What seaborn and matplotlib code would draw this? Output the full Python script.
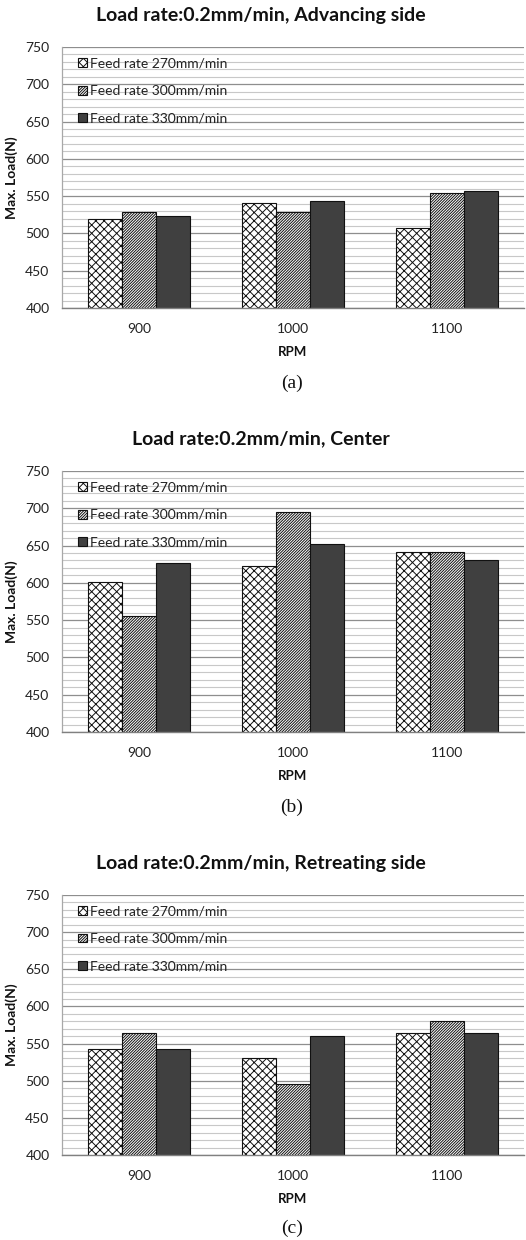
import pandas as pd
import matplotlib
matplotlib.use("Agg")
import matplotlib.pyplot as plt
from matplotlib.ticker import MultipleLocator
import seaborn as sns

# ---------------- DATA ----------------
rpm = ["900", "1000", "1100"]
feeds = ["270", "300", "330"]
feed_labels = ["Feed rate 270mm/min", "Feed rate 300mm/min", "Feed rate 330mm/min"]

adv_270 = [519, 541, 507]
adv_300 = [529, 529, 554]
adv_330 = [523, 543, 557]

cen_270 = [601, 622, 641]
cen_300 = [556, 695, 641]
cen_330 = [627, 652, 630]

ret_270 = [543, 531, 564]
ret_300 = [564, 496, 580]
ret_330 = [543, 560, 564]

titles = ["Load rate:0.2mm/min, Advancing side",
          "Load rate:0.2mm/min, Center",
          "Load rate:0.2mm/min, Retreating side"]
panel_tags = ["(a)", "(b)", "(c)"]

# ---------------- STYLE ----------------
sns.set_theme(style="white")
plt.rcParams["font.family"] = ["Lato", "DejaVu Sans"]
plt.rcParams["hatch.linewidth"] = 0.7

palette = {"270": "white", "300": "white", "330": "#404040"}
hatches = ["xxxx", "////////////", ""]

W, H = 526, 1240
fig = plt.figure(figsize=(W / 100, H / 100), dpi=100)


def long_df(s270, s300, s330):
    rows = []
    for f, vals in zip(feeds, [s270, s300, s330]):
        for r, v in zip(rpm, vals):
            rows.append({"rpm": r, "feed": f, "load": v})
    return pd.DataFrame(rows)


panels = [
    long_df(adv_270, adv_300, adv_330),
    long_df(cen_270, cen_300, cen_330),
    long_df(ret_270, ret_300, ret_330),
]

# pixel layout of each panel: (axes top, axes bottom, title y, tag y)
layout = [(47, 308, 15, 383), (471, 732, 439, 807), (895, 1155, 863, 1228)]
ax_left, ax_right = 62, 524

for df, title, tag, (top, bot, ty, tagy) in zip(panels, titles, panel_tags, layout):
    ax = fig.add_axes([ax_left / W, 1 - bot / H, (ax_right - ax_left) / W, (bot - top) / H])
    sns.barplot(data=df, x="rpm", y="load", hue="feed", order=rpm, hue_order=feeds,
                palette=palette, saturation=1, errorbar=None, width=0.66,
                edgecolor="#111111", linewidth=0.8, legend=False, ax=ax)
    for cont, h in zip(ax.containers, hatches):
        for p in cont.patches:
            p.set_hatch(h)

    ax.set_ylim(400, 750)
    ax.yaxis.set_major_locator(MultipleLocator(50))
    ax.yaxis.set_minor_locator(MultipleLocator(10))
    ax.set_axisbelow(True)
    ax.grid(which="minor", axis="y", color="#c8c8c8", lw=0.8)
    ax.grid(which="major", axis="y", color="#8e8e8e", lw=0.9)

    for s in ["top", "right"]:
        ax.spines[s].set_visible(False)
    ax.spines["left"].set_color("#a8a8a8")
    ax.spines["bottom"].set_color("#808080")
    ax.spines["left"].set_linewidth(0.9)
    ax.spines["bottom"].set_linewidth(1.0)

    ax.tick_params(axis="y", length=0, pad=9, labelsize=10, labelcolor="#222222")
    ax.tick_params(axis="x", length=0, pad=11, labelsize=10, labelcolor="#222222")
    ax.tick_params(axis="y", which="minor", length=0)

    ax.set_xlabel("RPM", fontsize=9.5, fontweight="bold", labelpad=8, color="#111111")
    ax.set_ylabel("Max. Load(N)", fontsize=10, fontweight="bold", color="#111111")
    ax.yaxis.set_label_coords(-0.095, 0.5)

    ax.legend(ax.containers, feed_labels, loc="upper left", bbox_to_anchor=(0.035, 0.96),
              frameon=False, fontsize=10, handlelength=0.6, handleheight=0.6,
              handletextpad=0.25, labelspacing=1.12, borderpad=0, borderaxespad=0,
              labelcolor="#222222")

    fig.text(261 / W, 1 - ty / H, title, ha="center", va="center",
             fontsize=14, fontweight="bold", color="#111111")
    fig.text(292 / W, 1 - tagy / H, tag, ha="center", va="center",
             fontsize=14, family=["Liberation Serif", "DejaVu Serif"], color="#111111")

fig.savefig("out.png", dpi=100)
